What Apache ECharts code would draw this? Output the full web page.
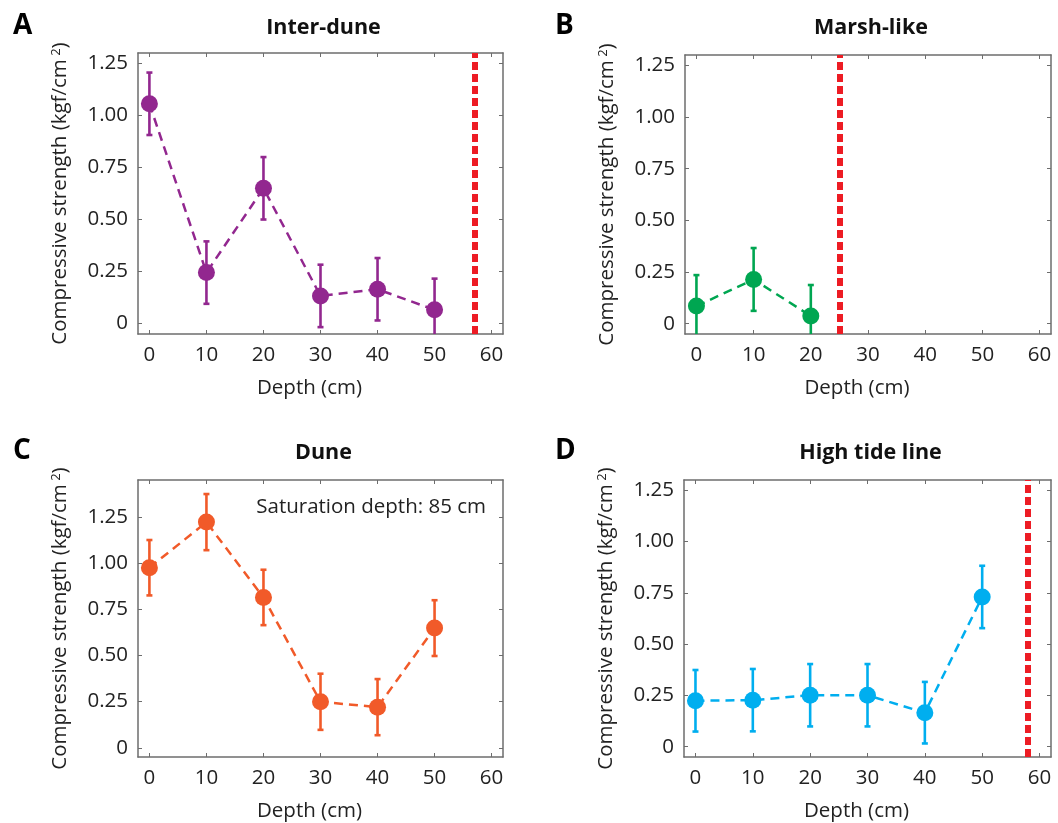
<!DOCTYPE html>
<html>
<head>
<meta charset="utf-8">
<script src="https://cdn.jsdelivr.net/npm/echarts@6/dist/echarts.min.js"></script>
<style>
  html, body { margin: 0; padding: 0; background: #fff; }
  #chart { width: 1058px; height: 823px; }
</style>
</head>
<body>
<div id="chart"></div>
<script>
// depths (cm)
const depthsFull = [0, 10, 20, 30, 40, 50];
const depthsMarsh = [0, 10, 20];

// mean compressive strength (kgf/cm2) and error (+/-)
const interDuneMean = [1.056, 0.245, 0.65, 0.133, 0.165, 0.066];
const interDuneErr = [0.15, 0.15, 0.15, 0.15, 0.15, 0.15];
const marshMean = [0.085, 0.214, 0.037];
const marshErr = [0.15, 0.152, 0.15];
const duneMean = [0.975, 1.222, 0.814, 0.249, 0.22, 0.648];
const duneErr = [0.15, 0.152, 0.15, 0.152, 0.152, 0.151];
const tideMean = [0.224, 0.227, 0.251, 0.251, 0.166, 0.73];
const tideErr = [0.15, 0.152, 0.152, 0.152, 0.15, 0.152];

// saturation depth line (cm), null = not drawn
const saturation = [57, 25, null, 58];

const xTicks = [0, 10, 20, 30, 40, 50, 60];
const yTicks = [0, 0.25, 0.5, 0.75, 1.0, 1.25];

const titles = ["Inter-dune", "Marsh-like", "Dune", "High tide line"];
const letters = ["A", "B", "C", "D"];
const colors = ["#92278F", "#00A651", "#F15A29", "#00AEEF"];

const FONT = "Open Sans";
const FS = 20.5;
const boxColor = "#6d6d6d";

const panels = [
  { x: depthsFull, mean: interDuneMean, err: interDuneErr, ymax: 1.30,
    grid: { left: 138, top: 53, width: 365, height: 281 } },
  { x: depthsMarsh, mean: marshMean, err: marshErr, ymax: 1.30,
    grid: { left: 685, top: 55, width: 366, height: 279 } },
  { x: depthsFull, mean: duneMean, err: duneErr, ymax: 1.45,
    grid: { left: 138, top: 480, width: 365, height: 280 } },
  { x: depthsFull, mean: tideMean, err: tideErr, ymax: 1.30,
    grid: { left: 684, top: 480, width: 367, height: 280 } }
];

function yFmt(v) {
  return v === 0 ? "0" : v.toFixed(2);
}

function errorRender(color) {
  return function (params, api) {
    const cs = params.coordSys;
    const x = api.value(0);
    const lo = api.value(1);
    const hi = api.value(2);
    const pTop = api.coord([x, hi]);
    const pBot = api.coord([x, lo]);
    const yMin = cs.y;
    const yMax = cs.y + cs.height;
    const t = Math.max(pTop[1], yMin);
    const b = Math.min(pBot[1], yMax);
    const style = { stroke: color, lineWidth: 2.6 };
    const kids = [
      { type: "line", shape: { x1: pTop[0], y1: t, x2: pTop[0], y2: b }, style: style }
    ];
    if (pTop[1] >= yMin) {
      kids.push({ type: "line", shape: { x1: pTop[0] - 3, y1: pTop[1], x2: pTop[0] + 3, y2: pTop[1] }, style: style });
    }
    if (pBot[1] <= yMax) {
      kids.push({ type: "line", shape: { x1: pBot[0] - 3, y1: pBot[1], x2: pBot[0] + 3, y2: pBot[1] }, style: style });
    }
    return { type: "group", children: kids };
  };
}

const grid = [];
const xAxis = [];
const yAxis = [];
const series = [];
const title = [];

panels.forEach(function (p, i) {
  grid.push(p.grid);
  const g = p.grid;

  // bottom / top x axes
  xAxis.push({
    type: "value", gridIndex: i, min: -2, max: 62, position: "bottom",
    name: "Depth (cm)", nameLocation: "middle", nameGap: 44,
    nameTextStyle: { fontFamily: FONT, fontSize: FS, color: "#222", padding: [0, 22, 0, 0] },
    axisLine: { onZero: false, lineStyle: { color: boxColor, width: 1.5 } },
    axisTick: { inside: true, length: 4, customValues: xTicks, lineStyle: { color: boxColor } },
    axisLabel: { customValues: xTicks, margin: 11, fontFamily: FONT, fontSize: FS, color: "#222" },
    splitLine: { show: false }
  });
  xAxis.push({
    type: "value", gridIndex: i, min: -2, max: 62, position: "top",
    axisLine: { onZero: false, lineStyle: { color: boxColor, width: 1.5 } },
    axisTick: { inside: true, length: 4, customValues: xTicks, lineStyle: { color: boxColor } },
    axisLabel: { show: false },
    splitLine: { show: false }
  });

  // left / right y axes
  yAxis.push({
    type: "value", gridIndex: i, min: -0.05, max: p.ymax, position: "left",
    name: "{a|Compressive strength (kgf/cm}{s| 2}{a|)}",
    nameLocation: "middle", nameGap: 67,
    nameTextStyle: {
      rich: {
        a: { fontFamily: FONT, fontSize: FS, color: "#222" },
        s: { fontFamily: FONT, fontSize: 13, color: "#222", verticalAlign: "top" }
      }
    },
    axisLine: { onZero: false, lineStyle: { color: boxColor, width: 1.5 } },
    axisTick: { inside: true, length: 4, customValues: yTicks, lineStyle: { color: boxColor } },
    axisLabel: { customValues: yTicks, formatter: yFmt, margin: 10, fontFamily: FONT, fontSize: FS, color: "#222" },
    splitLine: { show: false }
  });
  yAxis.push({
    type: "value", gridIndex: i, min: -0.05, max: p.ymax, position: "right",
    axisLine: { onZero: false, lineStyle: { color: boxColor, width: 1.5 } },
    axisTick: { inside: true, length: 4, customValues: yTicks, lineStyle: { color: boxColor } },
    axisLabel: { show: false },
    splitLine: { show: false }
  });

  const xi = i * 2;
  const yi = i * 2;

  // error bars
  series.push({
    type: "custom", xAxisIndex: xi, yAxisIndex: yi, z: 2,
    renderItem: errorRender(colors[i]),
    data: p.x.map(function (d, k) { return [d, p.mean[k] - p.err[k], p.mean[k] + p.err[k]]; })
  });

  // means with dashed connecting line
  const line = {
    type: "line", xAxisIndex: xi, yAxisIndex: yi, z: 3,
    symbol: "circle", symbolSize: 17,
    itemStyle: { color: colors[i] },
    lineStyle: { color: colors[i], width: 2.5, type: [9, 6] },
    data: p.x.map(function (d, k) { return [d, p.mean[k]]; })
  };
  if (saturation[i] !== null) {
    line.markLine = {
      silent: true, symbol: "none", label: { show: false },
      lineStyle: { color: "#ED1C24", width: 6, type: [8, 4] },
      data: [{ xAxis: saturation[i] }]
    };
  }
  series.push(line);

  // panel title and letter
  const textY = i < 2 ? 12 : 437;
  title.push({
    text: titles[i], left: g.left + g.width / 2 - 2, top: textY, textAlign: "center",
    textStyle: { fontFamily: FONT, fontSize: 21.5, fontWeight: "bold", color: "#111" }
  });
  title.push({
    text: letters[i], left: i % 2 === 0 ? 8 : 550, top: textY - 5,
    textStyle: { fontFamily: FONT, fontSize: 28, fontWeight: "bold", color: "#000" }
  });
});

const chart = echarts.init(document.getElementById("chart"));
chart.setOption({
  animation: false,
  title: title,
  grid: grid,
  xAxis: xAxis,
  yAxis: yAxis,
  series: series,
  graphic: [{
    type: "text", right: 1058 - 486, top: 497,
    style: { text: "Saturation depth: 85 cm", font: "20.5px 'Open Sans'", fill: "#222" }
  }]
});
</script>
</body>
</html>
